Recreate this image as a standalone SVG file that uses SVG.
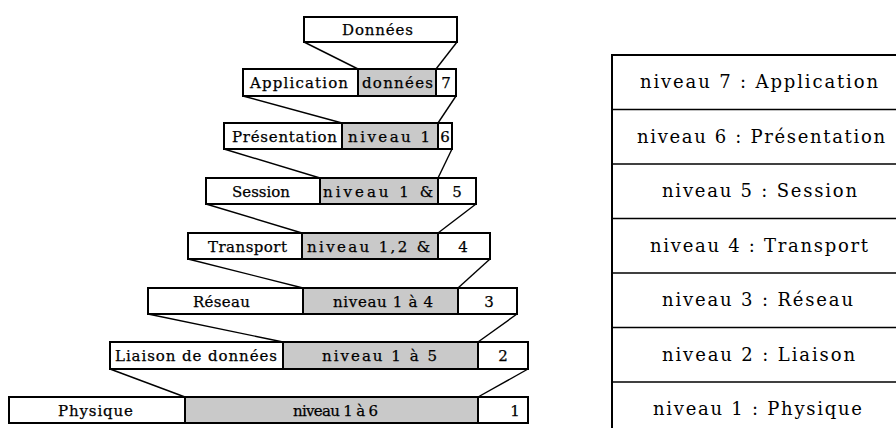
<svg xmlns="http://www.w3.org/2000/svg" width="896" height="428" viewBox="0 0 896 428">
  <style>
    .box { fill: #ffffff; stroke: #000000; stroke-width: 2; }
    .pay { fill: #c9c9c9; stroke: #000000; stroke-width: 2; }
    .lbl { font-family: "DejaVu Serif", "Liberation Serif", serif; font-size: 15px; fill: #000000; stroke: #000000; stroke-width: 0.25; }
    .num { font-family: "DejaVu Serif", "Liberation Serif", serif; font-size: 15px; fill: #000000; stroke: #000000; stroke-width: 0.25; text-anchor: middle; }
    .tbl { font-family: "DejaVu Serif", "Liberation Serif", serif; font-size: 18px; fill: #000000; }
    .edge { stroke: #000000; stroke-width: 1.4; fill: none; }
    .rule { stroke: #000000; stroke-width: 1.5; }
  </style>
  <rect width="896" height="428" fill="#ffffff"/>

  <!-- encapsulation stack: header | payload | layer number -->
  <g id="donnees">
    <rect class="box" x="304" y="17" width="153" height="25"/>
    <text class="lbl" x="342" y="35" textLength="71" lengthAdjust="spacing">Données</text>
  </g>
  <g id="application">
    <rect class="box" x="243" y="69" width="115" height="27"/>
    <rect class="pay" x="358" y="69" width="78" height="27"/>
    <rect class="box" x="436" y="69" width="20" height="27"/>
    <text class="lbl" x="250" y="88" textLength="98" lengthAdjust="spacing">Application</text>
    <text class="lbl" x="362" y="88" textLength="71" lengthAdjust="spacing">données</text>
    <text class="num" x="446" y="88">7</text>
  </g>
  <g id="presentation">
    <rect class="box" x="224" y="123" width="118" height="26"/>
    <rect class="pay" x="342" y="123" width="96" height="26"/>
    <rect class="box" x="438" y="123" width="14" height="26"/>
    <text class="lbl" x="232" y="142" textLength="105" lengthAdjust="spacing">Présentation</text>
    <text class="lbl" x="348" y="142" textLength="82" lengthAdjust="spacing">niveau 1</text>
    <text class="num" x="445" y="142">6</text>
  </g>
  <g id="session">
    <rect class="box" x="206" y="178" width="114" height="26"/>
    <rect class="pay" x="320" y="178" width="118" height="26"/>
    <rect class="box" x="438" y="178" width="38" height="26"/>
    <text class="lbl" x="232" y="197" textLength="58" lengthAdjust="spacing">Session</text>
    <text class="lbl" x="323" y="197" textLength="110" lengthAdjust="spacing">niveau 1 &amp;</text>
    <text class="num" x="457" y="197">5</text>
  </g>
  <g id="transport">
    <rect class="box" x="188" y="233" width="114" height="26"/>
    <rect class="pay" x="302" y="233" width="136" height="26"/>
    <rect class="box" x="438" y="233" width="52" height="26"/>
    <text class="lbl" x="208" y="252" textLength="79" lengthAdjust="spacing">Transport</text>
    <text class="lbl" x="307" y="252" textLength="123" lengthAdjust="spacing">niveau 1,2 &amp;</text>
    <text class="num" x="463" y="252">4</text>
  </g>
  <g id="reseau">
    <rect class="box" x="148" y="288" width="155" height="26"/>
    <rect class="pay" x="303" y="288" width="155" height="26"/>
    <rect class="box" x="458" y="288" width="59" height="26"/>
    <text class="lbl" x="193" y="307" textLength="57" lengthAdjust="spacing">Réseau</text>
    <text class="lbl" x="333" y="307" textLength="100" lengthAdjust="spacing">niveau 1 à 4</text>
    <text class="num" x="489" y="307">3</text>
  </g>
  <g id="liaison">
    <rect class="box" x="110" y="342" width="173" height="27"/>
    <rect class="pay" x="283" y="342" width="195" height="27"/>
    <rect class="box" x="478" y="342" width="50" height="27"/>
    <text class="lbl" x="115" y="361" textLength="162" lengthAdjust="spacing">Liaison de données</text>
    <text class="lbl" x="322" y="361" textLength="115" lengthAdjust="spacing">niveau 1 à 5</text>
    <text class="num" x="503" y="361">2</text>
  </g>
  <g id="physique">
    <rect class="box" x="9" y="397" width="176" height="26"/>
    <rect class="pay" x="185" y="397" width="293" height="26"/>
    <rect class="box" x="478" y="397" width="50" height="26"/>
    <text class="lbl" x="58" y="416" textLength="75" lengthAdjust="spacing">Physique</text>
    <text class="lbl" x="293" y="416" textLength="85" lengthAdjust="spacing">niveau 1 à 6</text>
    <text class="num" x="515" y="416">1</text>
  </g>

  <!-- funnel lines: each layer's whole unit becomes the payload below -->
  <g id="connectors">
    <line class="edge" x1="304" y1="42" x2="358" y2="69"/>
    <line class="edge" x1="457" y1="42" x2="436" y2="69"/>
    <line class="edge" x1="243" y1="96" x2="342" y2="123"/>
    <line class="edge" x1="456" y1="96" x2="438" y2="123"/>
    <line class="edge" x1="224" y1="149" x2="320" y2="178"/>
    <line class="edge" x1="452" y1="149" x2="438" y2="178"/>
    <line class="edge" x1="206" y1="204" x2="302" y2="233"/>
    <line class="edge" x1="476" y1="204" x2="438" y2="233"/>
    <line class="edge" x1="188" y1="259" x2="303" y2="288"/>
    <line class="edge" x1="490" y1="259" x2="458" y2="288"/>
    <line class="edge" x1="148" y1="314" x2="283" y2="342"/>
    <line class="edge" x1="517" y1="314" x2="478" y2="342"/>
    <line class="edge" x1="110" y1="369" x2="185" y2="397"/>
    <line class="edge" x1="528" y1="369" x2="478" y2="397"/>
  </g>

  <!-- layer table -->
  <g id="table">
    <rect x="612" y="55" width="300" height="400" fill="#ffffff" stroke="#000000" stroke-width="2"/>
    <line class="rule" x1="612" y1="109.5" x2="896" y2="109.5"/>
    <line class="rule" x1="612" y1="164" x2="896" y2="164"/>
    <line class="rule" x1="612" y1="218.5" x2="896" y2="218.5"/>
    <line class="rule" x1="612" y1="273" x2="896" y2="273"/>
    <line class="rule" x1="612" y1="327.5" x2="896" y2="327.5"/>
    <line class="rule" x1="612" y1="382" x2="896" y2="382"/>
    <text class="tbl" x="640" y="88" textLength="238" lengthAdjust="spacing">niveau 7 : Application</text>
    <text class="tbl" x="637" y="142.5" textLength="248" lengthAdjust="spacing">niveau 6 : Présentation</text>
    <text class="tbl" x="662" y="197" textLength="195" lengthAdjust="spacing">niveau 5 : Session</text>
    <text class="tbl" x="650" y="251.5" textLength="218" lengthAdjust="spacing">niveau 4 : Transport</text>
    <text class="tbl" x="662" y="306" textLength="191" lengthAdjust="spacing">niveau 3 : Réseau</text>
    <text class="tbl" x="662" y="360.5" textLength="193" lengthAdjust="spacing">niveau 2 : Liaison</text>
    <text class="tbl" x="653" y="415" textLength="209" lengthAdjust="spacing">niveau 1 : Physique</text>
  </g>
</svg>
